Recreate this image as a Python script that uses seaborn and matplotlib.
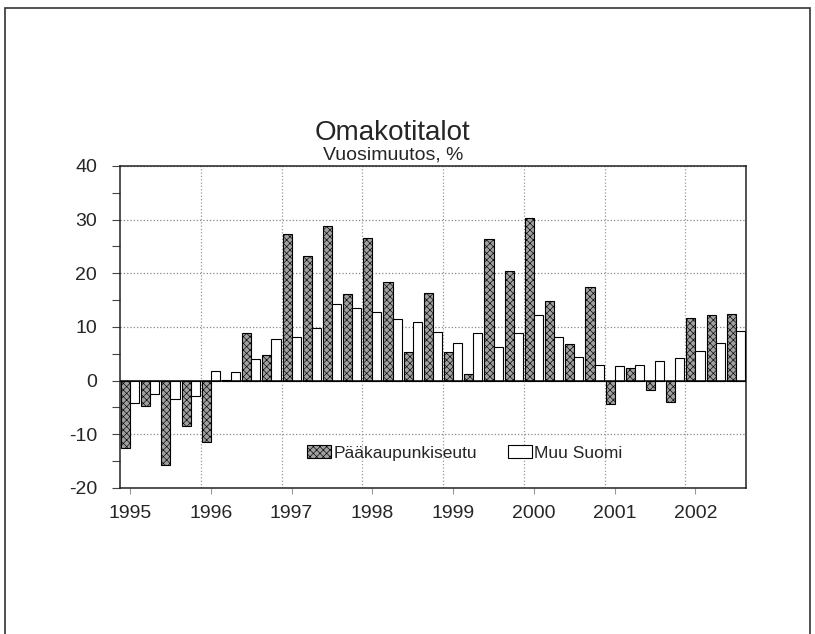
"""Omakotitalot: annual change of detached house prices, quarterly bars."""

import matplotlib

matplotlib.use("Agg")
import matplotlib.pyplot as plt
import pandas as pd
import seaborn as sns
from matplotlib.patches import Rectangle
from matplotlib.ticker import MultipleLocator


QUARTERS = [
    "1995Q1", "1995Q2", "1995Q3", "1995Q4",
    "1996Q1", "1996Q2", "1996Q3", "1996Q4",
    "1997Q1", "1997Q2", "1997Q3", "1997Q4",
    "1998Q1", "1998Q2", "1998Q3", "1998Q4",
    "1999Q1", "1999Q2", "1999Q3", "1999Q4",
    "2000Q1", "2000Q2", "2000Q3", "2000Q4",
    "2001Q1", "2001Q2", "2001Q3", "2001Q4",
    "2002Q1", "2002Q2", "2002Q3",
]
PAAKAUPUNKISEUTU = [
    -12.6, -4.8, -15.8, -8.4,
    -11.5, 0.1, 8.9, 4.7,
    27.3, 23.3, 28.9, 16.1,
    26.6, 18.4, 5.3, 16.3,
    5.4, 1.3, 26.4, 20.5,
    30.3, 14.8, 6.8, 17.4,
    -4.4, 2.3, -1.7, -3.9,
    11.6, 12.2, 12.4,
]
MUU_SUOMI = [
    -4.1, -2.5, -3.5, -2.8,
    1.8, 1.7, 4.0, 7.8,
    8.1, 9.8, 14.2, 13.5,
    12.7, 11.4, 11.0, 9.0,
    7.1, 8.8, 6.3, 8.8,
    12.3, 8.1, 4.4, 2.9,
    2.8, 2.9, 3.7, 4.2,
    5.6, 7.1, 9.3,
]
SERIES = ["Pääkaupunkiseutu", "Muu Suomi"]
YEAR_LABELS = ["1995", "1996", "1997", "1998", "1999", "2000", "2001", "2002"]
FONTS = ["Liberation Sans Narrow", "Liberation Sans", "DejaVu Sans"]


def main():
    sns.set_theme(style="white")
    plt.rcParams["font.family"] = FONTS
    plt.rcParams["hatch.linewidth"] = 0.45
    plt.rcParams["axes.unicode_minus"] = False

    data = pd.DataFrame({
        "quarter": QUARTERS * 2,
        "value": PAAKAUPUNKISEUTU + MUU_SUOMI,
        "series": [SERIES[0]] * len(QUARTERS) + [SERIES[1]] * len(QUARTERS),
    })

    figure = plt.figure(figsize=(8.15, 6.34), dpi=100)
    ax = figure.add_axes([0.1472, 0.2303, 0.7681, 0.5079])

    sns.barplot(
        data=data,
        x="quarter",
        y="value",
        hue="series",
        hue_order=SERIES,
        palette={SERIES[0]: "#a0a0a0", SERIES[1]: "white"},
        width=0.9,
        edgecolor="black",
        linewidth=0.8,
        saturation=1,
        ax=ax,
        zorder=3,
    )
    for bar in ax.containers[0]:
        bar.set_hatch("xxxxx")

    ax.set_ylim(-20, 40)
    ax.set_xlim(-0.5, len(QUARTERS) - 0.5)
    ax.yaxis.set_major_locator(MultipleLocator(10))
    ax.yaxis.set_minor_locator(MultipleLocator(5))
    ax.set_xticks(range(0, len(QUARTERS), 4))
    ax.set_xticklabels(YEAR_LABELS)
    ax.set_xlabel("")
    ax.set_ylabel("")

    ax.tick_params(axis="y", which="both", direction="out", length=5.5,
                   width=0.8, color="#444444", left=True, labelsize=14,
                   pad=11)
    ax.tick_params(axis="x", direction="out", length=4.3, width=0.8,
                   color="#999999", bottom=True, labelsize=14, pad=8)

    ax.yaxis.grid(True, linestyle=":", color="#888888", linewidth=0.9)
    for boundary in range(4, len(QUARTERS), 4):
        ax.axvline(boundary - 0.5, linestyle=":", color="#999999",
                   linewidth=0.9, zorder=1)
    ax.axhline(0, color="black", linewidth=1.1, zorder=4)

    for spine in ax.spines.values():
        spine.set_visible(True)
        spine.set_color("#222222")
        spine.set_linewidth(1.1)

    handles, labels = ax.get_legend_handles_labels()
    legend = ax.legend(
        handles,
        labels,
        loc="center",
        bbox_to_anchor=(0.551, 0.109),
        ncol=2,
        frameon=False,
        fontsize=12.5,
        handlelength=1.35,
        handleheight=0.8,
        handletextpad=0.15,
        columnspacing=1.8,
    )
    legend_patches = legend.get_patches()
    legend_patches[0].set_hatch("xxxxx")
    for patch in legend_patches:
        patch.set_edgecolor("black")
        patch.set_linewidth(0.8)

    figure.text(0.482, 0.790, "Omakotitalot", ha="center", va="center",
                fontsize=20)
    figure.text(0.482, 0.755, "Vuosimuutos, %", ha="center", va="center",
                fontsize=14)

    frame = Rectangle((0.006, -0.05), 0.988, 1.037, transform=figure.transFigure,
                      fill=False, edgecolor="#333333", linewidth=1.2)
    figure.patches.append(frame)

    figure.savefig("out.png", dpi=100)
    plt.close(figure)


if __name__ == "__main__":
    main()
